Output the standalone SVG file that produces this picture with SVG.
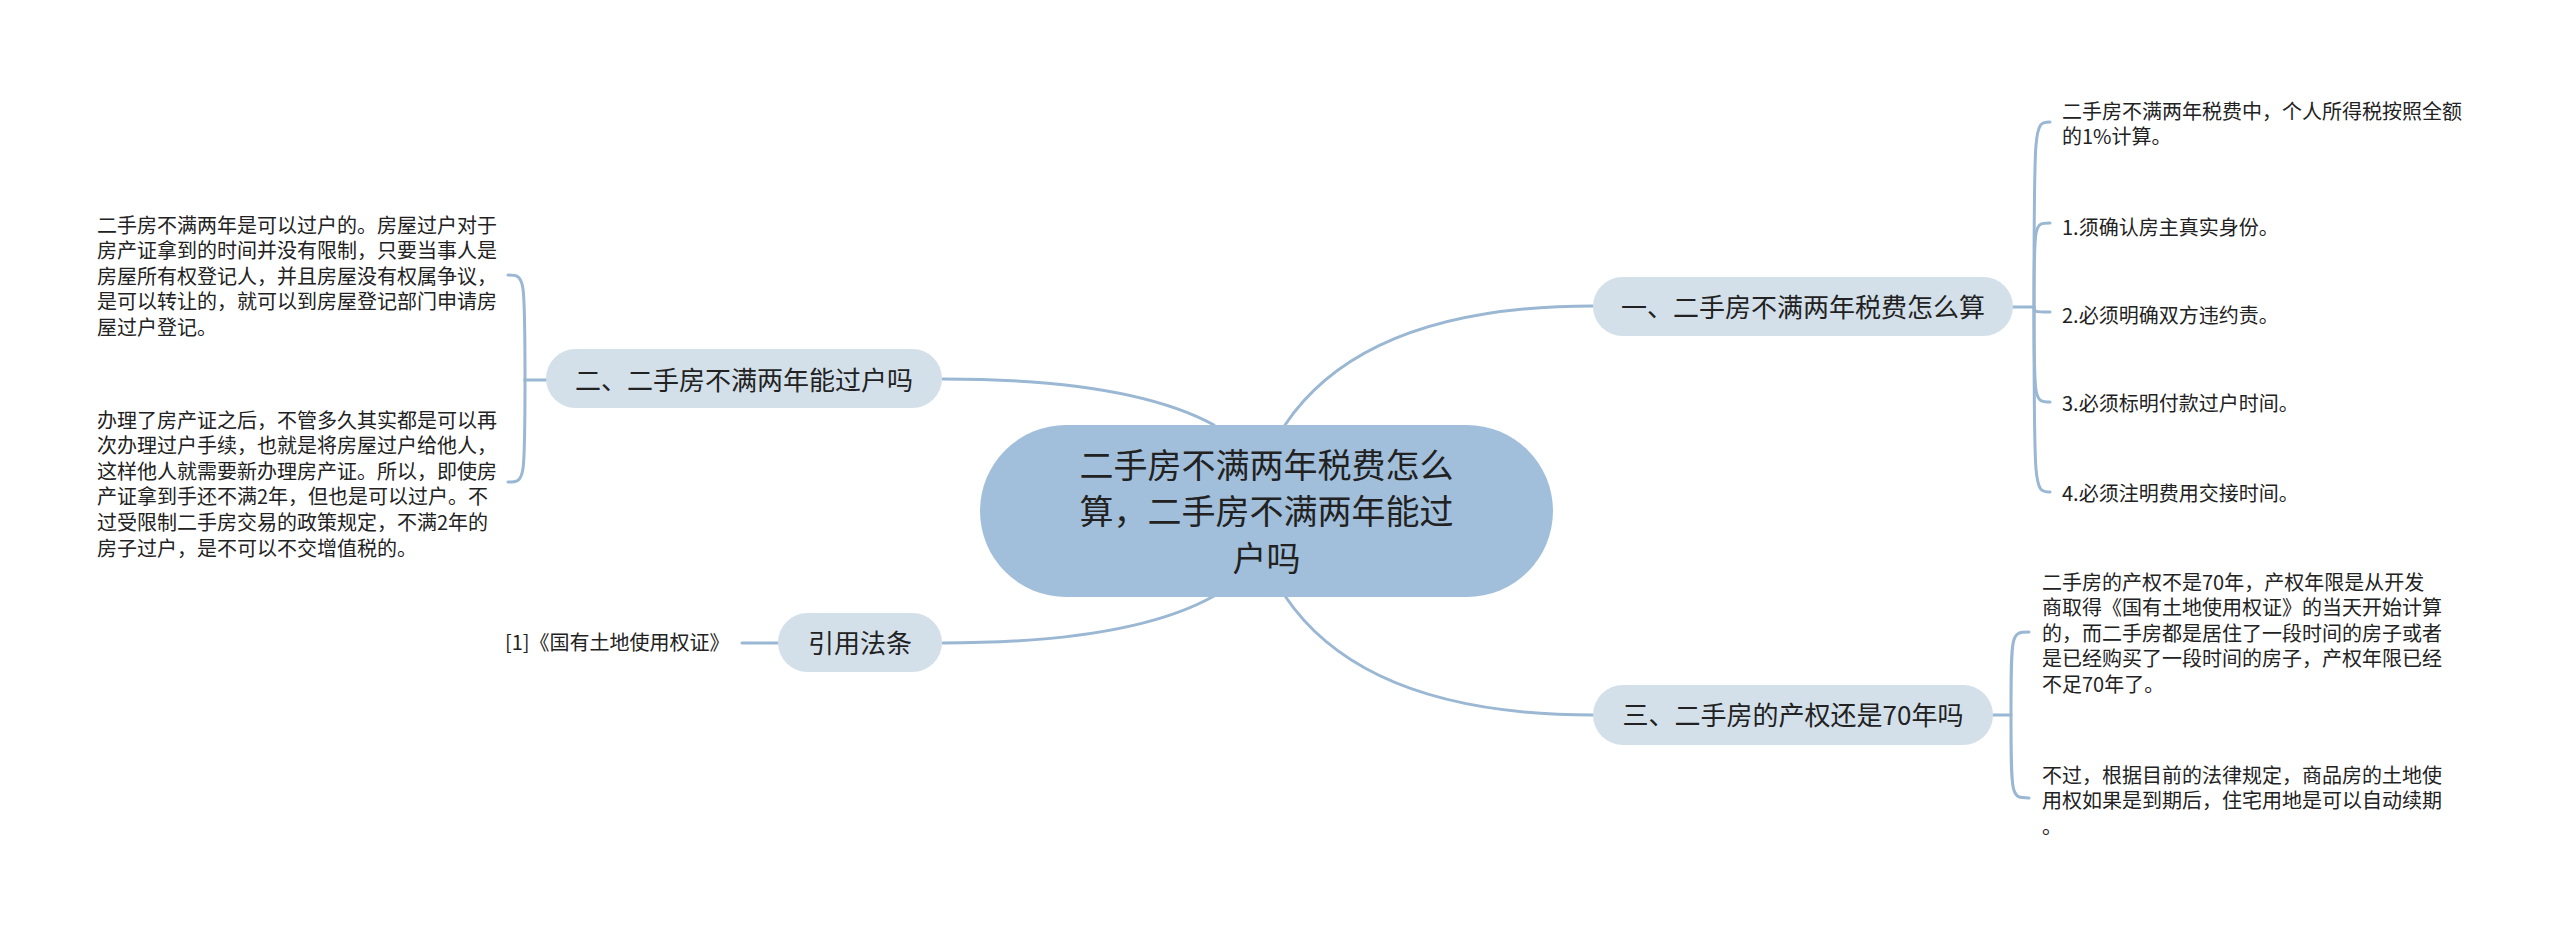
<svg xmlns="http://www.w3.org/2000/svg" width="2560" height="934" viewBox="0 0 2560 934">
<style>
.bg{fill:#ffffff}
.c{fill:none;stroke:#9ab7d3;stroke-width:3;stroke-linecap:round}
.main{fill:#a1bfdb}
.sub{fill:#d3e0ea}
text{font-family:"Noto Sans CJK SC","Microsoft YaHei",sans-serif;fill:#222222}
.t34{font-size:34px;text-anchor:middle}
.t26{font-size:26px;text-anchor:middle}
.t20{font-size:20px}
</style>
<rect class="bg" x="0" y="0" width="2560" height="934"/>
<g id="connectors">
<path class="c" d="M1285 425 Q1365 306 1593 306"/>
<path class="c" d="M1285 596 Q1365 715 1593 715"/>
<path class="c" d="M943 379 Q1130 379 1214 425"/>
<path class="c" d="M943 643 Q1130 643 1214 596"/>
<path class="c" d="M742 643 L778 643"/>
<path class="c" d="M546 380 L525 380"/>
<path class="c" d="M525 380 C525 275 525 275 508 275"/>
<path class="c" d="M525 380 C525 482 525 482 508 482"/>
<path class="c" d="M2013 307 L2034 307"/>
<path class="c" d="M2034 307 C2034 122 2034 122 2050 122"/>
<path class="c" d="M2034 307 C2034 223 2034 223 2050 223"/>
<path class="c" d="M2034 307 C2034 312 2034 312 2050 312"/>
<path class="c" d="M2034 307 C2034 402 2034 402 2050 402"/>
<path class="c" d="M2034 307 C2034 492 2034 492 2050 492"/>
<path class="c" d="M1993 715 L2011 715"/>
<path class="c" d="M2011 715 C2011 632 2011 632 2029 632"/>
<path class="c" d="M2011 715 C2011 798 2011 798 2029 798"/>
</g>
<g id="center">
<rect class="main" x="980" y="425" width="573" height="172" rx="86" ry="86"/>
<text class="t34" x="1266.5" y="478">二手房不满两年税费怎么</text>
<text class="t34" x="1266.5" y="524">算，二手房不满两年能过</text>
<text class="t34" x="1266.5" y="571">户吗</text>
</g>
<g id="node-1">
<rect class="sub" x="1593" y="277" width="420" height="59" rx="29.5" ry="29.5"/>
<text class="t26" x="1803" y="317">一、二手房不满两年税费怎么算</text>
</g>
<g id="node-2">
<rect class="sub" x="546" y="349" width="396" height="59" rx="29.5" ry="29.5"/>
<text class="t26" x="744" y="390">二、二手房不满两年能过户吗</text>
</g>
<g id="node-3">
<rect class="sub" x="1593" y="685" width="400" height="60" rx="30" ry="30"/>
<text class="t26" x="1793" y="725">三、二手房的产权还是70年吗</text>
</g>
<g id="node-ref">
<rect class="sub" x="778" y="613" width="164" height="59" rx="29.5" ry="29.5"/>
<text class="t26" x="860" y="653">引用法条</text>
</g>
<g id="leaf-ref">
<text class="t20" x="505" y="650">[1]《国有土地使用权证》</text>
</g>
<g id="leaf-2a">
<text class="t20" x="97" y="232.5">二手房不满两年是可以过户的。房屋过户对于</text>
<text class="t20" x="97" y="258.1">房产证拿到的时间并没有限制，只要当事人是</text>
<text class="t20" x="97" y="283.7">房屋所有权登记人，并且房屋没有权属争议，</text>
<text class="t20" x="97" y="309.3">是可以转让的，就可以到房屋登记部门申请房</text>
<text class="t20" x="97" y="334.9">屋过户登记。</text>
</g>
<g id="leaf-2b">
<text class="t20" x="97" y="427.5">办理了房产证之后，不管多久其实都是可以再</text>
<text class="t20" x="97" y="453.1">次办理过户手续，也就是将房屋过户给他人，</text>
<text class="t20" x="97" y="478.7">这样他人就需要新办理房产证。所以，即使房</text>
<text class="t20" x="97" y="504.3">产证拿到手还不满2年，但也是可以过户。不</text>
<text class="t20" x="97" y="529.9">过受限制二手房交易的政策规定，不满2年的</text>
<text class="t20" x="97" y="555.5">房子过户，是不可以不交增值税的。</text>
</g>
<g id="leaf-1a">
<text class="t20" x="2062" y="118.5">二手房不满两年税费中，个人所得税按照全额</text>
<text class="t20" x="2062" y="144.1">的1%计算。</text>
</g>
<g id="leaf-1b">
<text class="t20" x="2062" y="234.5">1.须确认房主真实身份。</text>
</g>
<g id="leaf-1c">
<text class="t20" x="2062" y="322.5">2.必须明确双方违约责。</text>
</g>
<g id="leaf-1d">
<text class="t20" x="2062" y="410.5">3.必须标明付款过户时间。</text>
</g>
<g id="leaf-1e">
<text class="t20" x="2062" y="500.5">4.必须注明费用交接时间。</text>
</g>
<g id="leaf-3a">
<text class="t20" x="2042" y="589.5">二手房的产权不是70年，产权年限是从开发</text>
<text class="t20" x="2042" y="615.1">商取得《国有土地使用权证》的当天开始计算</text>
<text class="t20" x="2042" y="640.7">的，而二手房都是居住了一段时间的房子或者</text>
<text class="t20" x="2042" y="666.3">是已经购买了一段时间的房子，产权年限已经</text>
<text class="t20" x="2042" y="691.9">不足70年了。</text>
</g>
<g id="leaf-3b">
<text class="t20" x="2042" y="782.5">不过，根据目前的法律规定，商品房的土地使</text>
<text class="t20" x="2042" y="808.1">用权如果是到期后，住宅用地是可以自动续期</text>
<text class="t20" x="2042" y="833.7">。</text>
</g>
</svg>
